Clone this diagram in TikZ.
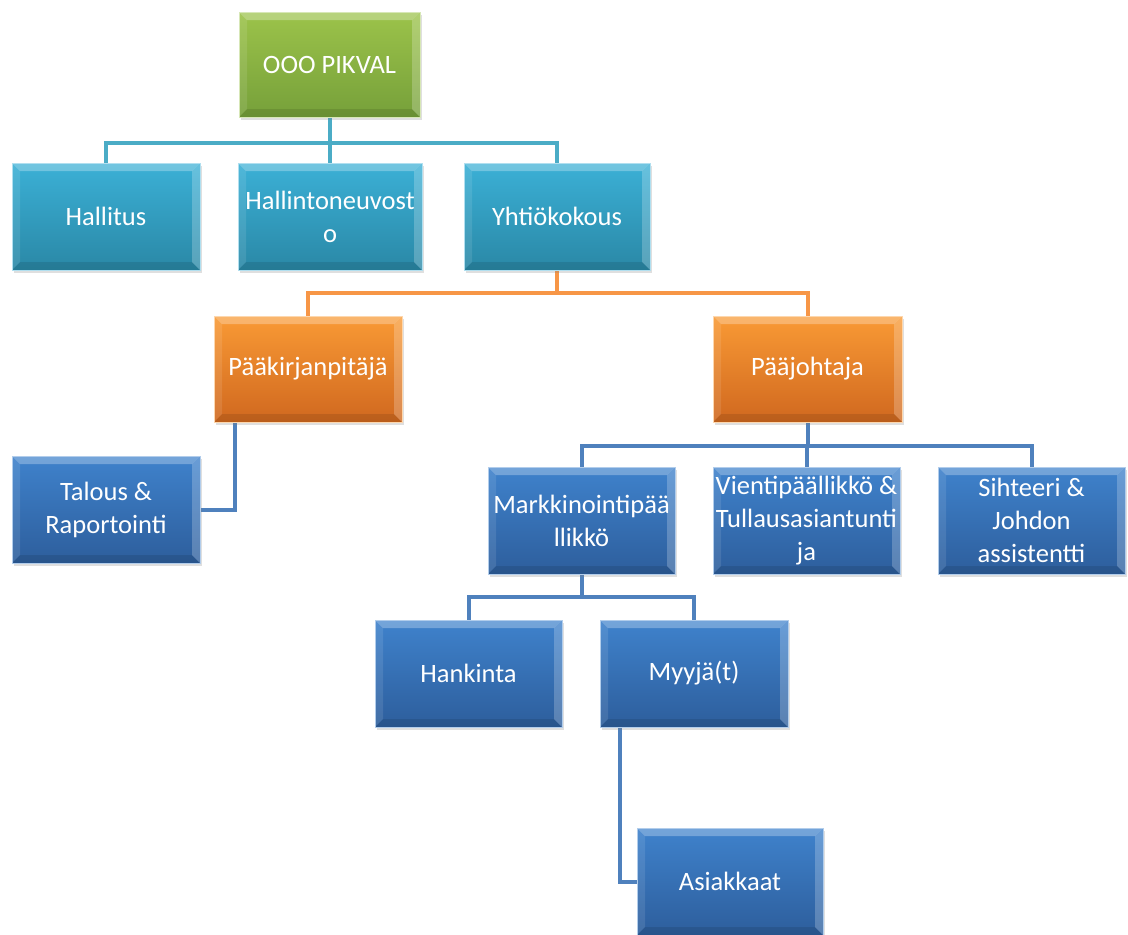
\documentclass[tikz,border=0pt]{standalone}
\usepackage{fontspec}
\setmainfont{Carlito}
\usetikzlibrary{shadows,calc}
\pgfdeclarelayer{bg}
\pgfsetlayers{bg,main}
\definecolor{gTop}{HTML}{9CC34A}\definecolor{gBot}{HTML}{76A03A}
\definecolor{cTop}{HTML}{3BB0D6}\definecolor{cBot}{HTML}{2A88A6}
\definecolor{oTop}{HTML}{F99A35}\definecolor{oBot}{HTML}{D0681F}
\definecolor{bTop}{HTML}{3F82CC}\definecolor{bBot}{HTML}{2D5E9C}
\definecolor{cLine}{HTML}{4BACC6}\definecolor{oLine}{HTML}{F79646}\definecolor{bLine}{HTML}{4F81BD}
\tikzset{
  box/.style={rectangle, minimum height=107pt, inner sep=2pt, text=white, align=center,
     font=\fontsize{26.5}{33}\selectfont, drop shadow={opacity=0.25, shadow xshift=2pt, shadow yshift=-3pt},
     draw=white!60!#1, line width=0.8pt,
     path picture={
       \fill[white, opacity=0.28] (path picture bounding box.north west) -- (path picture bounding box.north east)
          -- ([xshift=-8pt,yshift=-8pt]path picture bounding box.north east) -- ([xshift=8pt,yshift=-8pt]path picture bounding box.north west) -- cycle;
       \fill[white, opacity=0.10] (path picture bounding box.north west) -- ([xshift=8pt,yshift=-8pt]path picture bounding box.north west)
          -- ([xshift=8pt,yshift=8pt]path picture bounding box.south west) -- (path picture bounding box.south west) -- cycle;
       \fill[white, opacity=0.22] (path picture bounding box.north east) -- ([xshift=-8pt,yshift=-8pt]path picture bounding box.north east)
          -- ([xshift=-8pt,yshift=8pt]path picture bounding box.south east) -- (path picture bounding box.south east) -- cycle;
       \fill[black, opacity=0.10] (path picture bounding box.south west) -- ([xshift=8pt,yshift=8pt]path picture bounding box.south west)
          -- ([xshift=-8pt,yshift=8pt]path picture bounding box.south east) -- (path picture bounding box.south east) -- cycle;
     }},
  greenbox/.style={box=gTop, top color=gTop, bottom color=gBot},
  cyanbox/.style={box=cTop, top color=cTop, bottom color=cBot},
  orangebox/.style={box=oTop, top color=oTop, bottom color=oBot},
  bluebox/.style={box=bTop, top color=bTop, bottom color=bBot},
  conn/.style={line width=4pt, draw=#1},
}
\begin{document}
\begin{tikzpicture}[x=1pt, y=-1pt]
\useasboundingbox (0,0) rectangle (1128,935);
\node[greenbox, minimum width=181pt, minimum height=105pt] (pik) at (329.5,64.5) {OOO PIKVAL};
\node[cyanbox, minimum width=188pt] (hal) at (106,216.5) {Hallitus};
\node[cyanbox, minimum width=184pt] (hne) at (330,216.5) {Hallintoneuvost\\o};
\node[cyanbox, minimum width=186pt] (yht) at (557,216.5) {Yhtiökokous};
\node[orangebox, minimum width=188pt, minimum height=106pt] (paak) at (308,369) {Pääkirjanpitäjä};
\node[orangebox, minimum width=189pt, minimum height=106pt] (paaj) at (807.5,369) {Pääjohtaja};
\node[bluebox, minimum width=188pt] (tal) at (106,509.5) {Talous \&\\Raportointi};
\node[bluebox, minimum width=187pt] (mark) at (581.5,520.5) {Markkinointipää\\llikkö};
\node[bluebox, minimum width=187pt] (vie) at (806.5,520.5) {Vientipäällikkö \&\\Tullausasiantunti\\ja};
\node[bluebox, minimum width=187pt] (sih) at (1031.5,520.5) {Sihteeri \&\\Johdon\\assistentti};
\node[bluebox, minimum width=187pt] (han) at (468.5,673.5) {Hankinta};
\node[bluebox, minimum width=188pt] (myy) at (694,673.5) {Myyjä(t)};
\node[bluebox, minimum width=186pt] (asi) at (730,881.5) {Asiakkaat};
% bus coordinates
\path (pik.south) ++(0,26) coordinate (b1);
\path (yht.south) ++(0,23) coordinate (b2);
\path (paaj.south) ++(0,24) coordinate (b3);
\path (mark.south) ++(0,23) coordinate (b4);
\coordinate (t1) at ($(paak.south west)+(21,0)$);
\coordinate (t2) at ($(myy.south west)+(20,0)$);
\begin{pgfonlayer}{bg}
\draw[conn=cLine] (pik.south) -- (b1);
\draw[conn=cLine] (b1) -| (hal.north);
\draw[conn=cLine] (b1) -| (hne.north);
\draw[conn=cLine] (b1) -| (yht.north);
\draw[conn=oLine] (yht.south) -- (b2);
\draw[conn=oLine] (b2) -| (paak.north);
\draw[conn=oLine] (b2) -| (paaj.north);
\draw[conn=bLine] (t1) |- (tal.east);
\draw[conn=bLine] (paaj.south) -- (b3);
\draw[conn=bLine] (b3) -| (mark.north);
\draw[conn=bLine] (b3) -| (vie.north);
\draw[conn=bLine] (b3) -| (sih.north);
\draw[conn=bLine] (mark.south) -- (b4);
\draw[conn=bLine] (b4) -| (han.north);
\draw[conn=bLine] (b4) -| (myy.north);
\draw[conn=bLine] (t2) |- (asi.west);
\end{pgfonlayer}
\end{tikzpicture}
\end{document}
